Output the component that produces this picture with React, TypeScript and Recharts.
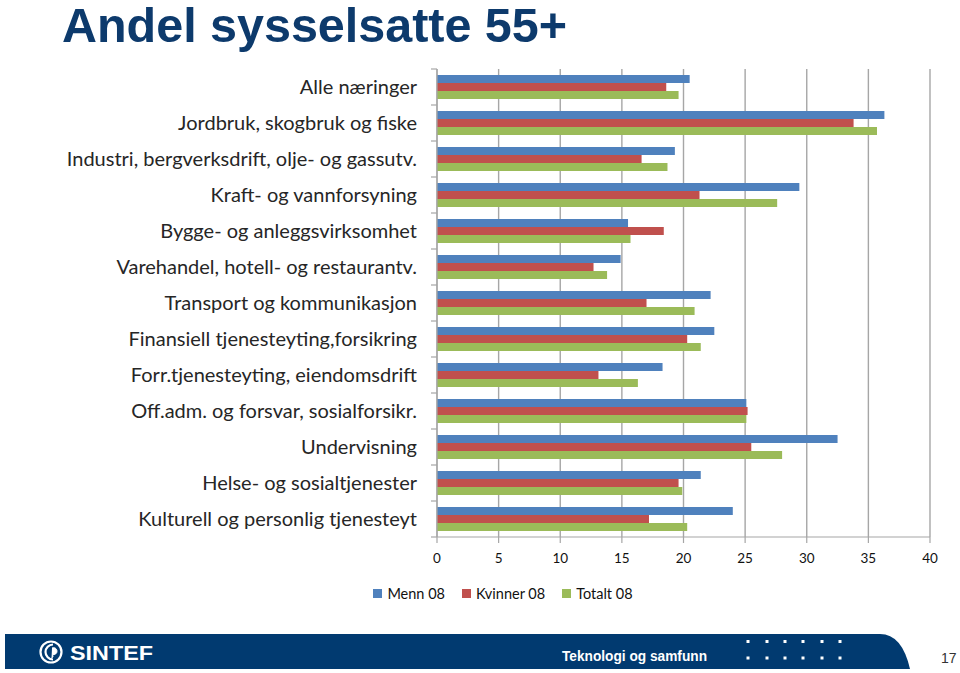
import React from 'react';
import { BarChart, Bar, XAxis, YAxis, CartesianGrid } from 'recharts';

const categories = [
  'Alle næringer',
  'Jordbruk, skogbruk og fiske',
  'Industri, bergverksdrift, olje- og gassutv.',
  'Kraft- og vannforsyning',
  'Bygge- og anleggsvirksomhet',
  'Varehandel, hotell- og restaurantv.',
  'Transport og kommunikasjon',
  'Finansiell tjenesteyting,forsikring',
  'Forr.tjenesteyting, eiendomsdrift',
  'Off.adm. og forsvar, sosialforsikr.',
  'Undervisning',
  'Helse- og sosialtjenester',
  'Kulturell og personlig tjenesteyt',
];
const menn08 = [20.5, 36.3, 19.3, 29.4, 15.5, 14.9, 22.2, 22.5, 18.3, 25.1, 32.5, 21.4, 24.0];
const kvinner08 = [18.6, 33.8, 16.6, 21.3, 18.4, 12.7, 17.0, 20.3, 13.1, 25.2, 25.5, 19.6, 17.2];
const totalt08 = [19.6, 35.7, 18.7, 27.6, 15.7, 13.8, 20.9, 21.4, 16.3, 25.1, 28.0, 19.9, 20.3];
const xTicks = [0, 5, 10, 15, 20, 25, 30, 35, 40];
const seriesNames = ['Menn 08', 'Kvinner 08', 'Totalt 08'];
const colors = ['#4F81BD', '#C0504D', '#9BBB59'];

const data = categories.map((c, i) => ({
  name: c,
  menn: menn08[i],
  kvinner: kvinner08[i],
  totalt: totalt08[i],
}));

const W = 960;
const H = 673;
const MARGIN = { top: 69, right: 30, left: 0, bottom: 106 };
const Y_W = 437;
const X_H = 30;
const BAND = (H - MARGIN.top - MARGIN.bottom - X_H) / categories.length;
const AXIS = '#A6A6A6';
const FONT = 'Lato, "Open Sans", sans-serif';

const YTick = (props: any) => {
  const { y, payload, index } = props;
  const last = index === categories.length - 1;
  return (
    <g>
      <text
        x={Y_W - 20}
        y={y - 1}
        textAnchor="end"
        dominantBaseline="central"
        fontFamily={FONT}
        fontSize={20}
        fill="#262626"
      >
        {payload.value}
      </text>
      <line x1={Y_W - 6} x2={Y_W} y1={y - BAND / 2} y2={y - BAND / 2} stroke={AXIS} strokeWidth={1.2} />
      {last && (
        <line x1={Y_W - 6} x2={Y_W} y1={y + BAND / 2} y2={y + BAND / 2} stroke={AXIS} strokeWidth={1.2} />
      )}
    </g>
  );
};

const Logo = () => (
  <g>
    <circle cx={51} cy={652} r={10.5} fill="none" stroke="#fff" strokeWidth={2.2} />
    <path d="M 53 644.5 A 7.5 7.5 0 1 0 53 659.5" fill="none" stroke="#fff" strokeWidth={2.2} />
    <path d="M 52 648 a 3.5 3.5 0 1 1 0.5 6.5 q 1.5 2 -1 4" fill="#fff" stroke="#fff" strokeWidth={1} />
  </g>
);

export default function App() {
  const dotsX = [748, 767, 785, 803, 822, 840];
  return (
    <div style={{ position: 'absolute', left: 0, top: 0, width: W, height: H, background: '#fff' }}>
      <svg width={W} height={H} style={{ position: 'absolute', left: 0, top: 0 }}>
        <text
          x={62}
          y={42}
          fontFamily='"Liberation Sans", Arial, sans-serif'
          fontWeight="bold"
          fontSize={48}
          fill="#0D3A6C"
          textLength={505}
          lengthAdjust="spacingAndGlyphs"
        >
          Andel sysselsatte 55+
        </text>
        <path d="M 5 634 L 880 634 Q 902 634 910 669 L 5 669 Z" fill="#013A70" />
        <Logo />
        <text
          x={70}
          y={660}
          fontFamily='"Liberation Sans", Arial, sans-serif'
          fontWeight="bold"
          fontSize={21}
          fill="#fff"
          textLength={83}
          lengthAdjust="spacingAndGlyphs"
        >
          SINTEF
        </text>
        <text
          x={562}
          y={661}
          fontFamily='"Liberation Sans", Arial, sans-serif'
          fontWeight="bold"
          fontSize={14}
          fill="#fff"
          textLength={145}
          lengthAdjust="spacingAndGlyphs"
        >
          Teknologi og samfunn
        </text>
        {dotsX.map((x) => (
          <g key={x}>
            <rect x={x - 1.5} y={640} width={3} height={3} fill="#fff" />
            <rect x={x - 1.5} y={656.5} width={3} height={3} fill="#fff" />
          </g>
        ))}
        <text x={941} y={663} fontFamily='"Liberation Sans", Arial, sans-serif' fontSize={14} fill="#333">
          17
        </text>
      </svg>
      <div style={{ position: 'absolute', left: 0, top: 0 }}>
        <BarChart
          width={W}
          height={H}
          data={data}
          layout="vertical"
          margin={MARGIN}
          barCategoryGap={6}
          barGap={0}
        >
          <CartesianGrid horizontal={false} vertical={true} stroke={AXIS} strokeWidth={1.4} />
          <XAxis
            type="number"
            domain={[0, 40]}
            ticks={xTicks}
            interval={0}
            height={X_H}
            axisLine={{ stroke: AXIS, strokeWidth: 1.2 }}
            tickLine={{ stroke: AXIS, strokeWidth: 1.2 }}
            tickSize={6}
            tickMargin={10}
            tick={{ fontFamily: FONT, fontSize: 13.5, fill: '#111' }}
          />
          <YAxis
            type="category"
            dataKey="name"
            width={Y_W}
            interval={0}
            axisLine={{ stroke: AXIS, strokeWidth: 1.2 }}
            tickLine={false}
            tick={<YTick />}
          />
          <Bar dataKey="menn" name={seriesNames[0]} fill={colors[0]} isAnimationActive={false} />
          <Bar dataKey="kvinner" name={seriesNames[1]} fill={colors[1]} isAnimationActive={false} />
          <Bar dataKey="totalt" name={seriesNames[2]} fill={colors[2]} isAnimationActive={false} />
        </BarChart>
      </div>
      <div
        style={{
          position: 'absolute',
          top: 585,
          left: 0,
          width: 1006,
          display: 'flex',
          justifyContent: 'center',
          alignItems: 'center',
          fontFamily: FONT,
          fontSize: 14.5,
          color: '#111',
          gap: 17,
        }}
      >
        {seriesNames.map((n, i) => (
          <div key={n} style={{ display: 'flex', alignItems: 'center' }}>
            <span style={{ display: 'inline-block', width: 9, height: 9, background: colors[i], marginRight: 5 }} />
            <span>{n}</span>
          </div>
        ))}
      </div>
    </div>
  );
}
